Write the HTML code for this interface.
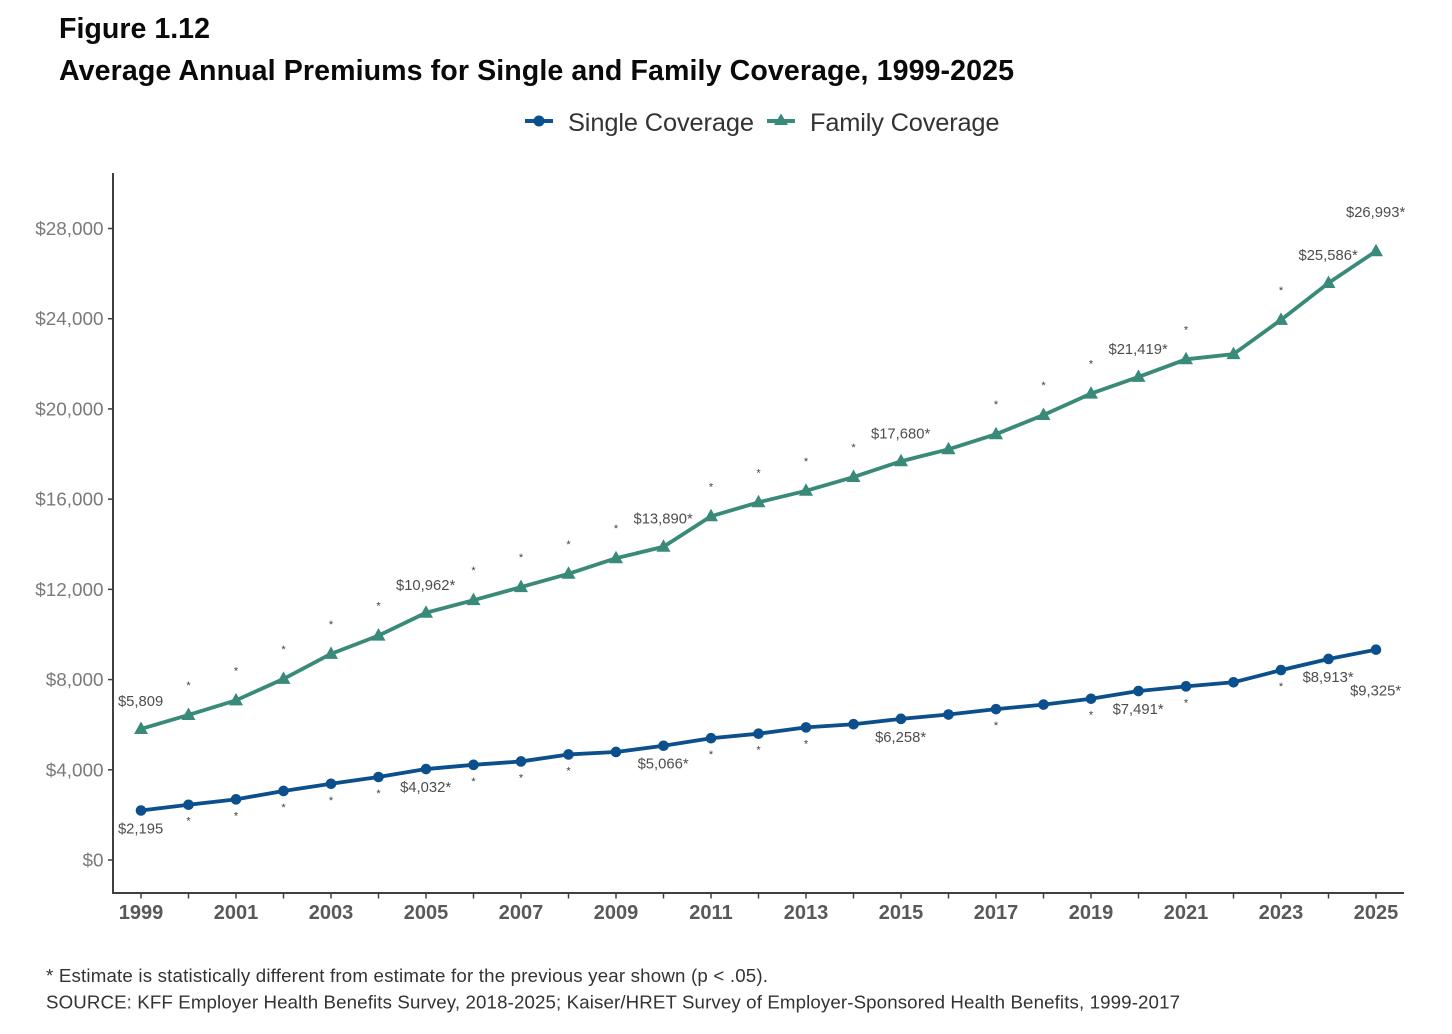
<!DOCTYPE html>
<html lang="en">
<head>
<meta charset="utf-8">
<title>Figure 1.12</title>
<style>
html,body{margin:0;padding:0;background:#fff;}
svg{display:block;font-family:"Liberation Sans",Arial,sans-serif;filter:blur(0.35px);}
</style>
</head>
<body>
<svg id="chart" width="1452" height="1034" viewBox="0 0 1452 1034" xmlns="http://www.w3.org/2000/svg">
  <rect width="1452" height="1034" fill="#fff"/>
  <text x="59" y="38" font-size="28.6" font-weight="700" fill="#0a0a0a">Figure 1.12</text>
  <text x="59" y="80" font-size="28.6" font-weight="700" fill="#0a0a0a" textLength="955" lengthAdjust="spacing">Average Annual Premiums for Single and Family Coverage, 1999-2025</text>
  <g>
    <g>
      <line x1="525" x2="553" y1="121" y2="121" stroke="#0b5394" stroke-width="4"/>
      <circle cx="539" cy="121" r="5.5" fill="#0b4f8c"/>
      <text x="568" y="131" font-size="25.4" fill="#333" textLength="186">Single Coverage</text>
    </g>
    <g>
      <line x1="767" x2="795" y1="121" y2="121" stroke="#398a78" stroke-width="4"/>
      <path d="M781 113.5 L788 125 L774 125 Z" fill="#398a78"/>
      <text x="810" y="131" font-size="25.4" fill="#333" textLength="189.5">Family Coverage</text>
    </g>
  </g>
  <g id="plot"></g>
  <text x="46" y="982" font-size="18.7" fill="#333" textLength="722">* Estimate is statistically different from estimate for the previous year shown (p &lt; .05).</text>
  <text x="46" y="1008.5" font-size="18.7" fill="#333" textLength="1134">SOURCE: KFF Employer Health Benefits Survey, 2018-2025; Kaiser/HRET Survey of Employer-Sponsored Health Benefits, 1999-2017</text>
</svg>
<script>
const years = [1999,2000,2001,2002,2003,2004,2005,2006,2007,2008,2009,2010,2011,2012,2013,2014,2015,2016,2017,2018,2019,2020,2021,2022,2023,2024,2025];
const singleValues = [2195,2450,2690,3060,3380,3680,4032,4220,4370,4680,4790,5066,5400,5600,5880,6020,6258,6450,6690,6890,7150,7491,7700,7880,8420,8913,9325];
const familyValues = [5809,6430,7080,8030,9140,9950,10962,11520,12100,12690,13380,13890,15240,15860,16370,16980,17680,18210,18880,19730,20680,21419,22200,22430,23950,25586,26993];
const yTicks = [0,4000,8000,12000,16000,20000,24000,28000];
const xTicks = [1999,2000,2001,2002,2003,2004,2005,2006,2007,2008,2009,2010,2011,2012,2013,2014,2015,2016,2017,2018,2019,2020,2021,2022,2023,2024,2025];
const singleLabelYears = [1999,2005,2010,2015,2020,2024,2025];
const singleLabelTexts = ['$2,195','$4,032*','$5,066*','$6,258*','$7,491*','$8,913*','$9,325*'];
const familyLabelYears = [1999,2005,2010,2015,2020,2024,2025];
const familyLabelTexts = ['$5,809','$10,962*','$13,890*','$17,680*','$21,419*','$25,586*','$26,993*'];
const singleStarYears = [2000,2001,2002,2003,2004,2006,2007,2008,2011,2012,2013,2017,2019,2021,2023];
const familyStarYears = [2000,2001,2002,2003,2004,2006,2007,2008,2009,2011,2012,2013,2014,2017,2018,2019,2021,2023];

const NS = 'http://www.w3.org/2000/svg';
const plot = document.getElementById('plot');
const xScale = v => 141 + (v - 1999) * (1376 - 141) / 26;
const yScale = v => 860 - v * (860 - 228.5) / 28000;
const money = v => '$' + v.toLocaleString('en-US');

function make(tag, attrs, parent) {
  const el = document.createElementNS(NS, tag);
  for (const k in attrs) el.setAttribute(k, attrs[k]);
  (parent || plot).appendChild(el);
  return el;
}

const axisColor = '#404040';
const yAxis = make('line', {x1:113,x2:113,y1:173,y2:894,stroke:axisColor,'stroke-width':2});


const xAxis = make('line', {x1:112,x2:1404,y1:893,y2:893,stroke:axisColor,'stroke-width':2});



yTicks.forEach(v => {
  const y = yScale(v);
  const tick = make('line', {x1:108,x2:113,y1:y,y2:y,stroke:axisColor,'stroke-width':1.5});
  
  
  const label = make('text', {x:103.5,y:y+6.5,'text-anchor':'end','font-size':18.9,fill:'#7a7a7a'});
  
  
  label.textContent = money(v);
});

xTicks.forEach((yr, i) => {
  const x = xScale(yr);
  const tick = make('line', {x1:x,x2:x,y1:893,y2:898.5,stroke:axisColor,'stroke-width':1.5});
  
  
  if (i % 2 === 0) {
    const label = make('text', {x:x,y:919,'text-anchor':'middle','font-size':20,'font-weight':700,fill:'#595959'});
    
    
    label.textContent = yr;
  }
});

function linePoints(vals) {
  return vals.map((v, i) => xScale(years[i]).toFixed(2) + ',' + yScale(v).toFixed(2)).join(' ');
}

const familyLine = make('polyline', {points:linePoints(familyValues),fill:'none',stroke:'#398a78','stroke-width':3.8,'stroke-linejoin':'round'});


const singleLine = make('polyline', {points:linePoints(singleValues),fill:'none',stroke:'#0b4f8c','stroke-width':3.8,'stroke-linejoin':'round'});



familyValues.forEach((v, i) => {
  const x = xScale(years[i]), y = yScale(v);
  const tri = make('path', {d:`M${x} ${y-7.5} L${x+7} ${y+5} L${x-7} ${y+5} Z`,fill:'#398a78'});
  
  
});
singleValues.forEach((v, i) => {
  const dot = make('circle', {cx:xScale(years[i]),cy:yScale(v),r:5.3,fill:'#0b4f8c'});
  
  
});

function valueFor(vals, yr) { return vals[years.indexOf(yr)]; }

familyLabelYears.forEach((yr, i) => {
  const off = yr === 2025 ? -34 : -23;
  const t = make('text', {x:xScale(yr)-0.4,y:yScale(valueFor(familyValues, yr)) + off,'text-anchor':'middle','font-size':14.8,fill:'#4d4d4d'});
  
  
  t.textContent = familyLabelTexts[i];
});
singleLabelYears.forEach((yr, i) => {
  const off = yr === 2025 ? 46 : 23;
  const t = make('text', {x:xScale(yr)-0.4,y:yScale(valueFor(singleValues, yr)) + off,'text-anchor':'middle','font-size':14.8,fill:'#4d4d4d'});
  
  
  t.textContent = singleLabelTexts[i];
});
familyStarYears.forEach(yr => {
  const t = make('text', {x:xScale(yr),y:yScale(valueFor(familyValues, yr)) - 26,'text-anchor':'middle','font-size':11,fill:'#404040'});
  
  
  t.textContent = '*';
});
singleStarYears.forEach(yr => {
  const t = make('text', {x:xScale(yr),y:yScale(valueFor(singleValues, yr)) + 20,'text-anchor':'middle','font-size':11,fill:'#404040'});
  
  
  t.textContent = '*';
});
</script>
</body>
</html>
